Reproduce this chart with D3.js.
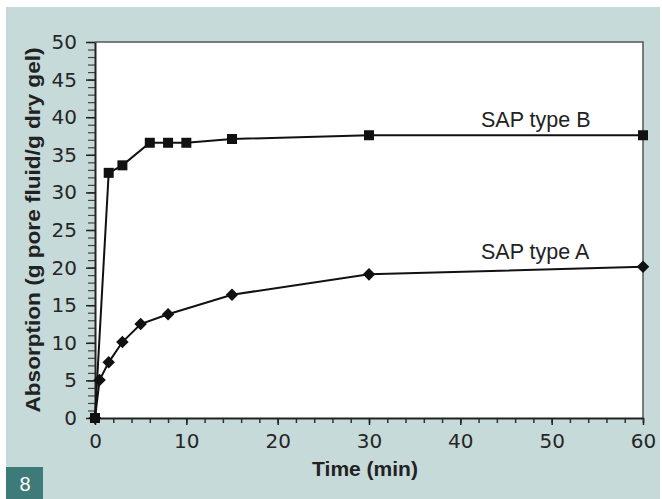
<!DOCTYPE html>
<html>
<head>
<meta charset="utf-8">
<script src="https://cdn.jsdelivr.net/npm/d3@7"></script>
<style>
  body { margin: 0; background: #fff; }
  text { font-family: "Liberation Sans", Arial, sans-serif; }
</style>
</head>
<body>
<div id="chart"></div>
<script>
var svgWidth = 662;
var svgHeight = 499;

// data
var timeB = [0, 1.5, 3, 6, 8, 10, 15, 30, 60];
var sapB = [0, 32.6, 33.6, 36.6, 36.6, 36.6, 37.1, 37.6, 37.6];
var timeA = [0, 0.5, 1.5, 3, 5, 8, 15, 30, 60];
var sapA = [0, 5.05, 7.4, 10.1, 12.5, 13.8, 16.4, 19.1, 20.1];
var xTicks = [0, 10, 20, 30, 40, 50, 60];
var yTicks = [0, 5, 10, 15, 20, 25, 30, 35, 40, 45, 50];

var margin = { top: 42, right: 19, bottom: 81, left: 95 };
var chartWidth = svgWidth - margin.left - margin.right;
var chartHeight = svgHeight - margin.top - margin.bottom;

var svg = d3.select("#chart")
    .append("svg")
    .attr("width", svgWidth)
    .attr("height", svgHeight);

// panel background
svg.append("rect")
    .attr("x", 6).attr("y", 7)
    .attr("width", 654).attr("height", 492)
    .attr("fill", "#c6dada");

svg.append("rect")
    .attr("x", 6).attr("y", 467)
    .attr("width", 37).attr("height", 32)
    .attr("fill", "#3d7a78");
svg.append("text")
    .attr("x", 25).attr("y", 491)
    .attr("text-anchor", "middle")
    .attr("font-size", "20px")
    .attr("fill", "#fff")
    .text("8");

var chartGroup = svg.append("g")
    .attr("transform", `translate(${margin.left}, ${margin.top})`);

chartGroup.append("rect")
    .attr("width", chartWidth)
    .attr("height", chartHeight)
    .attr("fill", "#fff");

// top and right frame
chartGroup.append("path")
    .attr("d", `M0,0H${chartWidth}V${chartHeight}`)
    .attr("fill", "none")
    .attr("stroke", "#555")
    .attr("stroke-width", 1.5);

var xScale = d3.scaleLinear().domain([0, 60]).range([0, chartWidth]);
var yScale = d3.scaleLinear().domain([0, 50]).range([chartHeight, 0]);

// minor ticks
chartGroup.append("g")
    .attr("transform", `translate(0, ${chartHeight})`)
    .call(d3.axisBottom(xScale).ticks(30).tickSize(5).tickFormat(""))
    .call(g => g.select(".domain").remove())
    .selectAll("line").attr("stroke", "#333").attr("stroke-width", 1.5);

chartGroup.append("g")
    .call(d3.axisLeft(yScale).ticks(50).tickSize(7).tickFormat(""))
    .call(g => g.select(".domain").remove())
    .selectAll("line").attr("stroke", "#444").attr("stroke-width", 1.2);

var bottomAxis = d3.axisBottom(xScale).tickValues(xTicks).tickSize(7).tickSizeOuter(0).tickPadding(9);
var leftAxis = d3.axisLeft(yScale).tickValues(yTicks).tickSize(9).tickSizeOuter(0).tickPadding(9);

var xg = chartGroup.append("g")
    .attr("transform", `translate(0, ${chartHeight})`)
    .call(bottomAxis);
var yg = chartGroup.append("g")
    .call(leftAxis);

[xg, yg].forEach(function(g) {
    g.select(".domain").attr("stroke", "#222").attr("stroke-width", 2);
    g.selectAll(".tick line").attr("stroke", "#222").attr("stroke-width", 1.5);
    g.selectAll(".tick text")
        .style("font-size", "20px")
        .style("font-family", "'DejaVu Sans', sans-serif")
        .attr("fill", "#262626");
});

var line = d3.line()
    .x(d => xScale(d[0]))
    .y(d => yScale(d[1]));

var dataB = timeB.map((t, i) => [t, sapB[i]]);
var dataA = timeA.map((t, i) => [t, sapA[i]]);

chartGroup.append("path")
    .datum(dataB)
    .attr("d", line)
    .attr("fill", "none")
    .attr("stroke", "#111")
    .attr("stroke-width", 2);

chartGroup.append("path")
    .datum(dataA)
    .attr("d", line)
    .attr("fill", "none")
    .attr("stroke", "#111")
    .attr("stroke-width", 2);

chartGroup.selectAll(".sqB")
    .data(dataB)
    .enter()
    .append("rect")
    .attr("class", "sqB")
    .attr("x", d => xScale(d[0]) - 5)
    .attr("y", d => yScale(d[1]) - 5)
    .attr("width", 10)
    .attr("height", 10)
    .attr("fill", "#111");

chartGroup.selectAll(".dmA")
    .data(dataA)
    .enter()
    .append("path")
    .attr("class", "dmA")
    .attr("d", d3.symbol().type(d3.symbolDiamond2).size(100))
    .attr("transform", d => `translate(${xScale(d[0])}, ${yScale(d[1])})`)
    .attr("fill", "#111");

chartGroup.append("text")
    .attr("x", 386)
    .attr("y", 85)
    .attr("font-size", "21.5px")
    .attr("fill", "#222")
    .text("SAP type B");

chartGroup.append("text")
    .attr("x", 386)
    .attr("y", 217)
    .attr("font-size", "21.5px")
    .attr("fill", "#222")
    .text("SAP type A");

chartGroup.append("text")
    .attr("transform", `translate(${chartWidth / 2 - 4}, ${chartHeight + 58})`)
    .attr("text-anchor", "middle")
    .attr("font-size", "21px")
    .attr("font-weight", "bold")
    .attr("fill", "#222")
    .text("Time (min)");

chartGroup.append("text")
    .attr("transform", "rotate(-90)")
    .attr("y", -55)
    .attr("x", -188)
    .attr("text-anchor", "middle")
    .attr("font-size", "20px")
    .attr("font-weight", "bold")
    .attr("fill", "#222")
    .attr("textLength", 365)
    .attr("lengthAdjust", "spacingAndGlyphs")
    .text("Absorption (g pore fluid/g dry gel)");
</script>
</body>
</html>
